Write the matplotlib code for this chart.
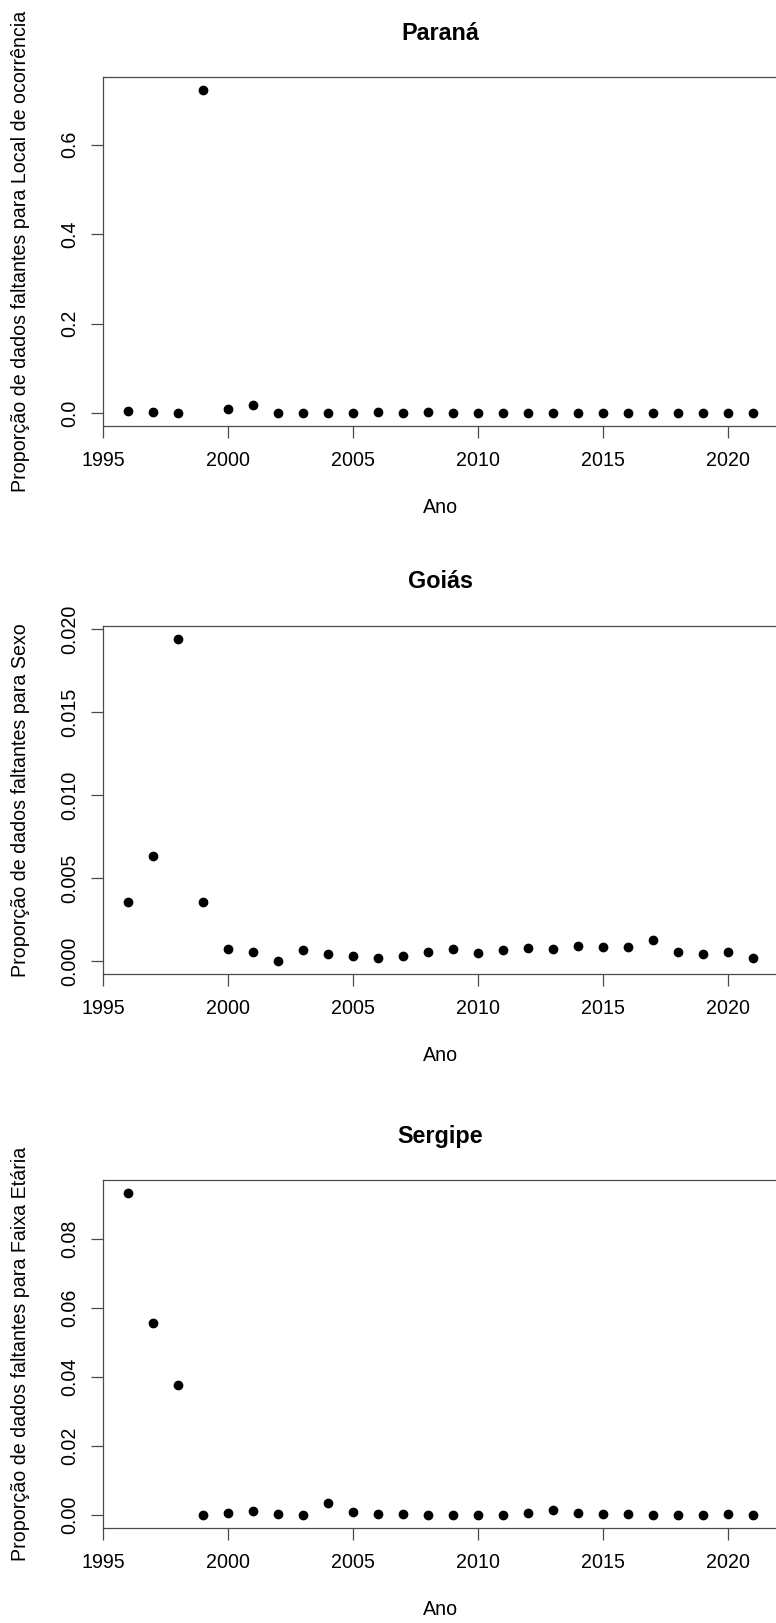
import numpy as np
import matplotlib
matplotlib.use('Agg')
import matplotlib.pyplot as plt

plt.rcParams['font.family'] = ['Liberation Sans', 'DejaVu Sans']

anos = list(range(1996, 2022))

# proporcao de dados faltantes
parana_local = [0.004, 0.0015, 0.0, 0.722, 0.010, 0.019, 0.0, 0.0, 0.0, 0.0,
                0.0025, 0.0, 0.003, 0.0, 0.0, 0.0, 0.0, 0.0, 0.0, 0.0,
                0.0, 0.0, 0.0, 0.0, 0.0, 0.0]
goias_sexo = [0.00353, 0.0063, 0.0194, 0.00358, 0.00074, 0.00052, 0.0, 0.00068,
              0.00044, 0.00028, 0.00016, 0.00032, 0.00056, 0.0007, 0.0005,
              0.00066, 0.0008, 0.0007, 0.00092, 0.00082, 0.00082, 0.00128,
              0.00052, 0.00044, 0.00056, 0.00016]
sergipe_faixa = [0.0934, 0.0556, 0.0377, 0.0, 0.00058, 0.00116, 0.00029, 0.0,
                 0.00337, 0.00087, 0.00029, 0.00029, 0.0, 0.0, 0.0, 0.0,
                 0.00058, 0.00144, 0.00058, 0.00029, 0.00029, 0.0, 0.0, 0.0,
                 0.00029, 0.0]

estados = ['Paraná', 'Goiás', 'Sergipe']
variaveis = ['Local de ocorrência', 'Sexo', 'Faixa Etária']
series = [parana_local, goias_sexo, sergipe_faixa]
yticks = [np.arange(0, 0.61, 0.2), np.arange(0, 0.0201, 0.005), np.arange(0, 0.081, 0.02)]
yfmt = ['{:.1f}', '{:.3f}', '{:.2f}']

W, H = 776, 1623
fig = plt.figure(figsize=(W / 100, H / 100), dpi=100)

# topo e base de cada painel em pixels
paineis = [(77, 426), (626, 974), (1180, 1528)]
left, right = 103, 778
cor = '#4a4a4a'
fs = 14.1

for i in range(3):
    top, bot = paineis[i]
    h = bot - top
    ax = fig.add_axes([left / W, 1 - bot / H, (right - left) / W, h / H])
    vals = np.array(series[i])
    ax.plot(anos, vals, 'o', color='black', markersize=6, clip_on=False)

    # limites estilo R (4% de folga)
    ax.set_xlim(1995, 2022)
    r = vals.max() - vals.min()
    ax.set_ylim(vals.min() - 0.04 * r, vals.max() + 0.04 * r)

    ax.set_xticks([1995, 2000, 2005, 2010, 2015, 2020])
    ax.set_yticks(yticks[i])
    ax.set_yticklabels([yfmt[i].format(v) for v in yticks[i]],
                       rotation=90, va='center')

    for s in ax.spines.values():
        s.set_color(cor)
        s.set_linewidth(0.9)
    ax.tick_params(length=8.6, width=0.9, color=cor, labelsize=fs,
                   labelcolor='black')
    ax.tick_params(axis='x', pad=9.5)
    ax.tick_params(axis='y', pad=8.5)

    ax.set_title(estados[i], fontsize=16.8, fontweight='bold', pad=27)
    ax.set_xlabel('Ano', fontsize=fs)
    ax.set_ylabel('Proporção de dados faltantes para ' + variaveis[i], fontsize=fs)
    ax.xaxis.set_label_coords(0.5, -72.0 / h)
    ax.yaxis.set_label_coords(-(103 - 30) / (right - left), 0.5)

plt.savefig('out.png', dpi=100)
plt.close()
